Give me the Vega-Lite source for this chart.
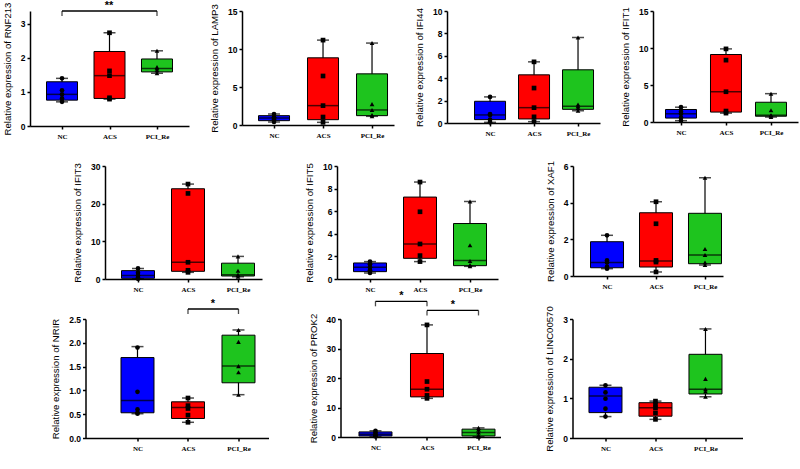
{
"$schema": "https://vega.github.io/schema/vega-lite/v6.json",
"padding": {"left": 2, "top": 0, "right": 2, "bottom": 2},
"datasets": {
"stats": [
{"gene":"RNF213","group":"NC","min":0.71,"q1":0.76,"median":0.93,"q3":1.30,"max":1.40},
{"gene":"RNF213","group":"ACS","min":0.79,"q1":0.81,"median":1.48,"q3":2.19,"max":2.74},
{"gene":"RNF213","group":"PCI_Re","min":1.55,"q1":1.59,"median":1.69,"q3":1.97,"max":2.21},
{"gene":"LAMP3","group":"NC","min":0.40,"q1":0.57,"median":0.92,"q3":1.23,"max":1.45},
{"gene":"LAMP3","group":"ACS","min":0.35,"q1":0.70,"median":2.55,"q3":8.84,"max":11.17},
{"gene":"LAMP3","group":"PCI_Re","min":1.14,"q1":1.23,"median":1.98,"q3":6.73,"max":10.78},
{"gene":"IFI44","group":"NC","min":0.06,"q1":0.30,"median":0.72,"q3":1.94,"max":2.33},
{"gene":"IFI44","group":"ACS","min":0.12,"q1":0.36,"median":1.37,"q3":4.30,"max":5.46},
{"gene":"IFI44","group":"PCI_Re","min":1.10,"q1":1.22,"median":1.49,"q3":4.75,"max":7.64},
{"gene":"IFIT1","group":"NC","min":0.18,"q1":0.53,"median":1.11,"q3":1.69,"max":2.0},
{"gene":"IFIT1","group":"ACS","min":1.2,"q1":1.34,"median":4.09,"q3":9.12,"max":9.88},
{"gene":"IFIT1","group":"PCI_Re","min":0.67,"q1":0.78,"median":0.92,"q3":2.67,"max":3.83},
{"gene":"IFIT3","group":"NC","min":0.05,"q1":0.18,"median":0.9,"q3":2.22,"max":2.8},
{"gene":"IFIT3","group":"ACS","min":1.77,"q1":2.04,"median":4.44,"q3":23.96,"max":25.2},
{"gene":"IFIT3","group":"PCI_Re","min":0.6,"q1":0.8,"median":1.1,"q3":4.2,"max":6.0},
{"gene":"IFIT5","group":"NC","min":0.53,"q1":0.65,"median":1.04,"q3":1.42,"max":1.54},
{"gene":"IFIT5","group":"ACS","min":1.54,"q1":1.83,"median":3.1,"q3":7.25,"max":8.58},
{"gene":"IFIT5","group":"PCI_Re","min":1.12,"q1":1.18,"median":1.63,"q3":4.91,"max":6.86},
{"gene":"XAF1","group":"NC","min":0.4,"q1":0.45,"median":0.73,"q3":1.87,"max":2.22},
{"gene":"XAF1","group":"ACS","min":0.22,"q1":0.49,"median":0.82,"q3":3.45,"max":4.05},
{"gene":"XAF1","group":"PCI_Re","min":0.6,"q1":0.67,"median":1.15,"q3":3.42,"max":5.36},
{"gene":"NRIR","group":"NC","min":0.51,"q1":0.53,"median":0.79,"q3":1.69,"max":1.92},
{"gene":"NRIR","group":"ACS","min":0.33,"q1":0.41,"median":0.64,"q3":0.76,"max":0.84},
{"gene":"NRIR","group":"PCI_Re","min":0.91,"q1":1.16,"median":1.51,"q3":2.16,"max":2.27},
{"gene":"PROK2","group":"NC","min":0.2,"q1":0.35,"median":0.9,"q3":1.73,"max":2.1},
{"gene":"PROK2","group":"ACS","min":13.1,"q1":13.6,"median":16.2,"q3":28.3,"max":38.0},
{"gene":"PROK2","group":"PCI_Re","min":0.1,"q1":0.35,"median":1.5,"q3":2.66,"max":3.1},
{"gene":"LINC00570","group":"NC","min":0.54,"q1":0.64,"median":1.06,"q3":1.28,"max":1.33},
{"gene":"LINC00570","group":"ACS","min":0.47,"q1":0.55,"median":0.76,"q3":0.89,"max":0.93},
{"gene":"LINC00570","group":"PCI_Re","min":1.04,"q1":1.11,"median":1.23,"q3":2.11,"max":2.75}
],
"pts": [
{"gene":"RNF213","group":"NC","value":0.71},{"gene":"RNF213","group":"NC","value":0.81},{"gene":"RNF213","group":"NC","value":0.93},{"gene":"RNF213","group":"NC","value":1.05},{"gene":"RNF213","group":"NC","value":1.40},
{"gene":"RNF213","group":"ACS","value":0.79},{"gene":"RNF213","group":"ACS","value":0.83},{"gene":"RNF213","group":"ACS","value":1.48},{"gene":"RNF213","group":"ACS","value":1.62},{"gene":"RNF213","group":"ACS","value":2.74},
{"gene":"RNF213","group":"PCI_Re","value":1.55},{"gene":"RNF213","group":"PCI_Re","value":1.63},{"gene":"RNF213","group":"PCI_Re","value":1.69},{"gene":"RNF213","group":"PCI_Re","value":1.73},{"gene":"RNF213","group":"PCI_Re","value":2.21},
{"gene":"LAMP3","group":"NC","value":0.40},{"gene":"LAMP3","group":"NC","value":0.74},{"gene":"LAMP3","group":"NC","value":0.92},{"gene":"LAMP3","group":"NC","value":1.01},{"gene":"LAMP3","group":"NC","value":1.45},
{"gene":"LAMP3","group":"ACS","value":0.35},{"gene":"LAMP3","group":"ACS","value":1.05},{"gene":"LAMP3","group":"ACS","value":2.55},{"gene":"LAMP3","group":"ACS","value":6.45},{"gene":"LAMP3","group":"ACS","value":11.17},
{"gene":"LAMP3","group":"PCI_Re","value":1.14},{"gene":"LAMP3","group":"PCI_Re","value":1.32},{"gene":"LAMP3","group":"PCI_Re","value":1.98},{"gene":"LAMP3","group":"PCI_Re","value":2.75},{"gene":"LAMP3","group":"PCI_Re","value":10.78},
{"gene":"IFI44","group":"NC","value":0.06},{"gene":"IFI44","group":"NC","value":0.30},{"gene":"IFI44","group":"NC","value":0.72},{"gene":"IFI44","group":"NC","value":0.8},{"gene":"IFI44","group":"NC","value":2.33},
{"gene":"IFI44","group":"ACS","value":0.12},{"gene":"IFI44","group":"ACS","value":0.55},{"gene":"IFI44","group":"ACS","value":1.37},{"gene":"IFI44","group":"ACS","value":3.12},{"gene":"IFI44","group":"ACS","value":5.46},
{"gene":"IFI44","group":"PCI_Re","value":1.10},{"gene":"IFI44","group":"PCI_Re","value":1.34},{"gene":"IFI44","group":"PCI_Re","value":1.49},{"gene":"IFI44","group":"PCI_Re","value":1.65},{"gene":"IFI44","group":"PCI_Re","value":7.64},
{"gene":"IFIT1","group":"NC","value":0.18},{"gene":"IFIT1","group":"NC","value":0.6},{"gene":"IFIT1","group":"NC","value":1.11},{"gene":"IFIT1","group":"NC","value":1.38},{"gene":"IFIT1","group":"NC","value":2.0},
{"gene":"IFIT1","group":"ACS","value":1.2},{"gene":"IFIT1","group":"ACS","value":1.48},{"gene":"IFIT1","group":"ACS","value":4.09},{"gene":"IFIT1","group":"ACS","value":8.36},{"gene":"IFIT1","group":"ACS","value":9.88},
{"gene":"IFIT1","group":"PCI_Re","value":0.67},{"gene":"IFIT1","group":"PCI_Re","value":0.89},{"gene":"IFIT1","group":"PCI_Re","value":0.92},{"gene":"IFIT1","group":"PCI_Re","value":1.6},{"gene":"IFIT1","group":"PCI_Re","value":3.83},
{"gene":"IFIT3","group":"NC","value":0.05},{"gene":"IFIT3","group":"NC","value":0.31},{"gene":"IFIT3","group":"NC","value":0.9},{"gene":"IFIT3","group":"NC","value":1.64},{"gene":"IFIT3","group":"NC","value":2.8},
{"gene":"IFIT3","group":"ACS","value":1.77},{"gene":"IFIT3","group":"ACS","value":2.31},{"gene":"IFIT3","group":"ACS","value":4.44},{"gene":"IFIT3","group":"ACS","value":22.72},{"gene":"IFIT3","group":"ACS","value":25.2},
{"gene":"IFIT3","group":"PCI_Re","value":0.6},{"gene":"IFIT3","group":"PCI_Re","value":1.0},{"gene":"IFIT3","group":"PCI_Re","value":1.1},{"gene":"IFIT3","group":"PCI_Re","value":2.2},{"gene":"IFIT3","group":"PCI_Re","value":6.0},
{"gene":"IFIT5","group":"NC","value":0.53},{"gene":"IFIT5","group":"NC","value":0.77},{"gene":"IFIT5","group":"NC","value":1.04},{"gene":"IFIT5","group":"NC","value":1.30},{"gene":"IFIT5","group":"NC","value":1.54},
{"gene":"IFIT5","group":"ACS","value":1.54},{"gene":"IFIT5","group":"ACS","value":2.07},{"gene":"IFIT5","group":"ACS","value":3.1},{"gene":"IFIT5","group":"ACS","value":5.95},{"gene":"IFIT5","group":"ACS","value":8.58},
{"gene":"IFIT5","group":"PCI_Re","value":1.12},{"gene":"IFIT5","group":"PCI_Re","value":1.24},{"gene":"IFIT5","group":"PCI_Re","value":1.6},{"gene":"IFIT5","group":"PCI_Re","value":2.98},{"gene":"IFIT5","group":"PCI_Re","value":6.86},
{"gene":"XAF1","group":"NC","value":0.4},{"gene":"XAF1","group":"NC","value":0.5},{"gene":"XAF1","group":"NC","value":0.73},{"gene":"XAF1","group":"NC","value":0.85},{"gene":"XAF1","group":"NC","value":2.22},
{"gene":"XAF1","group":"ACS","value":0.22},{"gene":"XAF1","group":"ACS","value":0.76},{"gene":"XAF1","group":"ACS","value":0.85},{"gene":"XAF1","group":"ACS","value":2.85},{"gene":"XAF1","group":"ACS","value":4.05},
{"gene":"XAF1","group":"PCI_Re","value":0.6},{"gene":"XAF1","group":"PCI_Re","value":0.74},{"gene":"XAF1","group":"PCI_Re","value":1.15},{"gene":"XAF1","group":"PCI_Re","value":1.47},{"gene":"XAF1","group":"PCI_Re","value":5.36},
{"gene":"NRIR","group":"NC","value":0.51},{"gene":"NRIR","group":"NC","value":0.53},{"gene":"NRIR","group":"NC","value":0.60},{"gene":"NRIR","group":"NC","value":0.97},{"gene":"NRIR","group":"NC","value":1.90},
{"gene":"NRIR","group":"ACS","value":0.33},{"gene":"NRIR","group":"ACS","value":0.48},{"gene":"NRIR","group":"ACS","value":0.62},{"gene":"NRIR","group":"ACS","value":0.68},{"gene":"NRIR","group":"ACS","value":0.84},
{"gene":"NRIR","group":"PCI_Re","value":0.91},{"gene":"NRIR","group":"PCI_Re","value":1.38},{"gene":"NRIR","group":"PCI_Re","value":1.51},{"gene":"NRIR","group":"PCI_Re","value":2.02},{"gene":"NRIR","group":"PCI_Re","value":2.27},
{"gene":"PROK2","group":"NC","value":0.2},{"gene":"PROK2","group":"NC","value":0.5},{"gene":"PROK2","group":"NC","value":0.9},{"gene":"PROK2","group":"NC","value":1.5},{"gene":"PROK2","group":"NC","value":2.1},
{"gene":"PROK2","group":"ACS","value":13.1},{"gene":"PROK2","group":"ACS","value":14.1},{"gene":"PROK2","group":"ACS","value":16.2},{"gene":"PROK2","group":"ACS","value":18.8},{"gene":"PROK2","group":"ACS","value":38.0},
{"gene":"PROK2","group":"PCI_Re","value":0.1},{"gene":"PROK2","group":"PCI_Re","value":0.6},{"gene":"PROK2","group":"PCI_Re","value":1.5},{"gene":"PROK2","group":"PCI_Re","value":2.5},{"gene":"PROK2","group":"PCI_Re","value":3.1},
{"gene":"LINC00570","group":"NC","value":0.54},{"gene":"LINC00570","group":"NC","value":0.74},{"gene":"LINC00570","group":"NC","value":0.99},{"gene":"LINC00570","group":"NC","value":1.15},{"gene":"LINC00570","group":"NC","value":1.33},
{"gene":"LINC00570","group":"ACS","value":0.47},{"gene":"LINC00570","group":"ACS","value":0.63},{"gene":"LINC00570","group":"ACS","value":0.76},{"gene":"LINC00570","group":"ACS","value":0.85},{"gene":"LINC00570","group":"ACS","value":0.93},
{"gene":"LINC00570","group":"PCI_Re","value":1.04},{"gene":"LINC00570","group":"PCI_Re","value":1.17},{"gene":"LINC00570","group":"PCI_Re","value":1.23},{"gene":"LINC00570","group":"PCI_Re","value":1.49},{"gene":"LINC00570","group":"PCI_Re","value":2.75}
],
"sig": [
{"gene":"RNF213","g1":"NC","g2":"PCI_Re","level":3.38,"label":"**"},
{"gene":"NRIR","g1":"ACS","g2":"PCI_Re","level":2.71,"label":"*"},
{"gene":"PROK2","g1":"NC","g2":"ACS","level":46.0,"label":"*"},
{"gene":"PROK2","g1":"ACS","g2":"PCI_Re","level":42.9,"label":"*"}
]
},
"spacing": 21,
"center": true,
"resolve": {"scale": {"x": "independent", "y": "independent"}},
"vconcat": [
{"spacing": 53, "bounds": "flush", "resolve": {"scale": {"x": "independent", "y": "independent"}}, "hconcat": [
{"width": 159, "height": 115, "layer": [
 {"data": {"name": "stats"}, "transform": [{"filter": "datum.gene === 'RNF213'"}],
  "encoding": {"x": {"field": "group", "type": "nominal", "scale": {"type": "point", "domain": ["NC","ACS","PCI_Re"], "padding": 0.674, "align": 0.5}, "axis": {"title": null}}},
  "layer": [
   {"mark": {"type": "rule", "color": "black", "strokeWidth": 1.2}, "encoding": {"y": {"field": "min", "type": "quantitative", "scale": {"domain": [0, 3.38], "nice": false}, "axis": {"title": "Relative expression of RNF213", "values": [0,1,2,3], "tickCount": 10, "format": "d"}}, "y2": {"field": "max"}}},
   {"mark": {"type": "tick", "color": "black", "size": 12, "thickness": 1.5}, "encoding": {"y": {"field": "min", "type": "quantitative"}}},
   {"mark": {"type": "tick", "color": "black", "size": 12, "thickness": 1.5}, "encoding": {"y": {"field": "max", "type": "quantitative"}}},
   {"mark": {"type": "bar", "width": 31, "stroke": "black", "strokeWidth": 1}, "encoding": {"y": {"field": "q1", "type": "quantitative"}, "y2": {"field": "q3"}, "color": {"field": "group", "type": "nominal", "scale": {"domain": ["NC","ACS","PCI_Re"], "range": ["#0000ff","#ff0000","#1ec41e"]}, "legend": null}}},
   {"mark": {"type": "tick", "color": "black", "size": 31, "thickness": 1.5}, "encoding": {"y": {"field": "median", "type": "quantitative"}}}
  ]},
 {"data": {"name": "pts"}, "transform": [{"filter": "datum.gene === 'RNF213'"}],
  "mark": {"type": "point", "filled": true, "color": "black", "size": 22, "opacity": 1},
  "encoding": {"x": {"field": "group", "type": "nominal"}, "y": {"field": "value", "type": "quantitative"}, "shape": {"field": "group", "type": "nominal", "scale": {"domain": ["NC","ACS","PCI_Re"], "range": ["circle","square","triangle-up"]}, "legend": null}}},
 {"data": {"name": "sig"}, "transform": [{"filter": "datum.gene === 'RNF213'"}],
  "layer": [
   {"mark": {"type": "rule", "color": "black", "strokeWidth": 1.3}, "encoding": {"x": {"field": "g1", "type": "nominal"}, "x2": {"field": "g2"}, "y": {"field": "level", "type": "quantitative"}}},
   {"mark": {"type": "tick", "orient": "vertical", "color": "black", "size": 5, "thickness": 1.3, "yOffset": 2.5}, "encoding": {"x": {"field": "g1", "type": "nominal"}, "y": {"field": "level", "type": "quantitative"}}},
   {"mark": {"type": "tick", "orient": "vertical", "color": "black", "size": 5, "thickness": 1.3, "yOffset": 2.5}, "encoding": {"x": {"field": "g2", "type": "nominal"}, "y": {"field": "level", "type": "quantitative"}}},
   {"mark": {"type": "text", "color": "black", "font": "Liberation Sans", "fontSize": 11, "fontWeight": "bold", "dx": 47, "dy": -5}, "encoding": {"x": {"field": "g1", "type": "nominal"}, "y": {"field": "level", "type": "quantitative"}, "text": {"field": "label"}}}
  ]}
]},
{"width": 152, "height": 114, "layer": [
 {"data": {"name": "stats"}, "transform": [{"filter": "datum.gene === 'LAMP3'"}],
  "encoding": {"x": {"field": "group", "type": "nominal", "scale": {"type": "point", "domain": ["NC","ACS","PCI_Re"], "padding": 0.551, "align": 0.593}, "axis": {"title": null}}},
  "layer": [
   {"mark": {"type": "rule", "color": "black", "strokeWidth": 1.2}, "encoding": {"y": {"field": "min", "type": "quantitative", "scale": {"domain": [0, 15], "nice": false}, "axis": {"title": "Relative expression of LAMP3", "values": [0,5,10,15], "tickCount": 10, "format": "d"}}, "y2": {"field": "max"}}},
   {"mark": {"type": "tick", "color": "black", "size": 12, "thickness": 1.5}, "encoding": {"y": {"field": "min", "type": "quantitative"}}},
   {"mark": {"type": "tick", "color": "black", "size": 12, "thickness": 1.5}, "encoding": {"y": {"field": "max", "type": "quantitative"}}},
   {"mark": {"type": "bar", "width": 31, "stroke": "black", "strokeWidth": 1}, "encoding": {"y": {"field": "q1", "type": "quantitative"}, "y2": {"field": "q3"}, "color": {"field": "group", "type": "nominal", "scale": {"domain": ["NC","ACS","PCI_Re"], "range": ["#0000ff","#ff0000","#1ec41e"]}, "legend": null}}},
   {"mark": {"type": "tick", "color": "black", "size": 31, "thickness": 1.5}, "encoding": {"y": {"field": "median", "type": "quantitative"}}}
  ]},
 {"data": {"name": "pts"}, "transform": [{"filter": "datum.gene === 'LAMP3'"}],
  "mark": {"type": "point", "filled": true, "color": "black", "size": 22, "opacity": 1},
  "encoding": {"x": {"field": "group", "type": "nominal"}, "y": {"field": "value", "type": "quantitative"}, "shape": {"field": "group", "type": "nominal", "scale": {"domain": ["NC","ACS","PCI_Re"], "range": ["circle","square","triangle-up"]}, "legend": null}}}
]},
{"width": 153, "height": 112, "layer": [
 {"data": {"name": "stats"}, "transform": [{"filter": "datum.gene === 'IFI44'"}],
  "encoding": {"x": {"field": "group", "type": "nominal", "scale": {"type": "point", "domain": ["NC","ACS","PCI_Re"], "padding": 0.739, "align": 0.662}, "axis": {"title": null}}},
  "layer": [
   {"mark": {"type": "rule", "color": "black", "strokeWidth": 1.2}, "encoding": {"y": {"field": "min", "type": "quantitative", "scale": {"domain": [0, 10], "nice": false}, "axis": {"title": "Relative expression of IFI44", "values": [0,2,4,6,8,10], "tickCount": 10, "format": "d"}}, "y2": {"field": "max"}}},
   {"mark": {"type": "tick", "color": "black", "size": 12, "thickness": 1.5}, "encoding": {"y": {"field": "min", "type": "quantitative"}}},
   {"mark": {"type": "tick", "color": "black", "size": 12, "thickness": 1.5}, "encoding": {"y": {"field": "max", "type": "quantitative"}}},
   {"mark": {"type": "bar", "width": 31, "stroke": "black", "strokeWidth": 1}, "encoding": {"y": {"field": "q1", "type": "quantitative"}, "y2": {"field": "q3"}, "color": {"field": "group", "type": "nominal", "scale": {"domain": ["NC","ACS","PCI_Re"], "range": ["#0000ff","#ff0000","#1ec41e"]}, "legend": null}}},
   {"mark": {"type": "tick", "color": "black", "size": 31, "thickness": 1.5}, "encoding": {"y": {"field": "median", "type": "quantitative"}}}
  ]},
 {"data": {"name": "pts"}, "transform": [{"filter": "datum.gene === 'IFI44'"}],
  "mark": {"type": "point", "filled": true, "color": "black", "size": 22, "opacity": 1},
  "encoding": {"x": {"field": "group", "type": "nominal"}, "y": {"field": "value", "type": "quantitative"}, "shape": {"field": "group", "type": "nominal", "scale": {"domain": ["NC","ACS","PCI_Re"], "range": ["circle","square","triangle-up"]}, "legend": null}}}
]},
{"width": 145, "height": 111, "layer": [
 {"data": {"name": "stats"}, "transform": [{"filter": "datum.gene === 'IFIT1'"}],
  "encoding": {"x": {"field": "group", "type": "nominal", "scale": {"type": "point", "domain": ["NC","ACS","PCI_Re"], "padding": 0.611, "align": 0.509}, "axis": {"title": null}}},
  "layer": [
   {"mark": {"type": "rule", "color": "black", "strokeWidth": 1.2}, "encoding": {"y": {"field": "min", "type": "quantitative", "scale": {"domain": [0, 15], "nice": false}, "axis": {"title": "Relative expression of IFIT1", "values": [0,5,10,15], "tickCount": 10, "format": "d"}}, "y2": {"field": "max"}}},
   {"mark": {"type": "tick", "color": "black", "size": 12, "thickness": 1.5}, "encoding": {"y": {"field": "min", "type": "quantitative"}}},
   {"mark": {"type": "tick", "color": "black", "size": 12, "thickness": 1.5}, "encoding": {"y": {"field": "max", "type": "quantitative"}}},
   {"mark": {"type": "bar", "width": 31, "stroke": "black", "strokeWidth": 1}, "encoding": {"y": {"field": "q1", "type": "quantitative"}, "y2": {"field": "q3"}, "color": {"field": "group", "type": "nominal", "scale": {"domain": ["NC","ACS","PCI_Re"], "range": ["#0000ff","#ff0000","#1ec41e"]}, "legend": null}}},
   {"mark": {"type": "tick", "color": "black", "size": 31, "thickness": 1.5}, "encoding": {"y": {"field": "median", "type": "quantitative"}}}
  ]},
 {"data": {"name": "pts"}, "transform": [{"filter": "datum.gene === 'IFIT1'"}],
  "mark": {"type": "point", "filled": true, "color": "black", "size": 22, "opacity": 1},
  "encoding": {"x": {"field": "group", "type": "nominal"}, "y": {"field": "value", "type": "quantitative"}, "shape": {"field": "group", "type": "nominal", "scale": {"domain": ["NC","ACS","PCI_Re"], "range": ["circle","square","triangle-up"]}, "legend": null}}}
]}
]},
{"spacing": -2, "center": true, "resolve": {"scale": {"x": "independent", "y": "independent"}}, "vconcat": [
{"spacing": 75, "bounds": "flush", "resolve": {"scale": {"x": "independent", "y": "independent"}}, "hconcat": [
{"width": 157, "height": 113, "layer": [
 {"data": {"name": "stats"}, "transform": [{"filter": "datum.gene === 'IFIT3'"}],
  "encoding": {"x": {"field": "group", "type": "nominal", "scale": {"type": "point", "domain": ["NC","ACS","PCI_Re"], "padding": 0.57, "align": 0.579}, "axis": {"title": null}}},
  "layer": [
   {"mark": {"type": "rule", "color": "black", "strokeWidth": 1.2}, "encoding": {"y": {"field": "min", "type": "quantitative", "scale": {"domain": [0, 30], "nice": false}, "axis": {"title": "Relative expression of IFIT3", "values": [0,10,20,30], "tickCount": 10, "format": "d"}}, "y2": {"field": "max"}}},
   {"mark": {"type": "tick", "color": "black", "size": 12, "thickness": 1.5}, "encoding": {"y": {"field": "min", "type": "quantitative"}}},
   {"mark": {"type": "tick", "color": "black", "size": 12, "thickness": 1.5}, "encoding": {"y": {"field": "max", "type": "quantitative"}}},
   {"mark": {"type": "bar", "width": 33, "stroke": "black", "strokeWidth": 1}, "encoding": {"y": {"field": "q1", "type": "quantitative"}, "y2": {"field": "q3"}, "color": {"field": "group", "type": "nominal", "scale": {"domain": ["NC","ACS","PCI_Re"], "range": ["#0000ff","#ff0000","#1ec41e"]}, "legend": null}}},
   {"mark": {"type": "tick", "color": "black", "size": 33, "thickness": 1.5}, "encoding": {"y": {"field": "median", "type": "quantitative"}}}
  ]},
 {"data": {"name": "pts"}, "transform": [{"filter": "datum.gene === 'IFIT3'"}],
  "mark": {"type": "point", "filled": true, "color": "black", "size": 22, "opacity": 1},
  "encoding": {"x": {"field": "group", "type": "nominal"}, "y": {"field": "value", "type": "quantitative"}, "shape": {"field": "group", "type": "nominal", "scale": {"domain": ["NC","ACS","PCI_Re"], "range": ["circle","square","triangle-up"]}, "legend": null}}}
]},
{"width": 161, "height": 113, "layer": [
 {"data": {"name": "stats"}, "transform": [{"filter": "datum.gene === 'IFIT5'"}],
  "encoding": {"x": {"field": "group", "type": "nominal", "scale": {"type": "point", "domain": ["NC","ACS","PCI_Re"], "padding": 0.61, "align": 0.541}, "axis": {"title": null}}},
  "layer": [
   {"mark": {"type": "rule", "color": "black", "strokeWidth": 1.2}, "encoding": {"y": {"field": "min", "type": "quantitative", "scale": {"domain": [0, 10], "nice": false}, "axis": {"title": "Relative expression of IFIT5", "values": [0,2,4,6,8,10], "tickCount": 10, "format": "d"}}, "y2": {"field": "max"}}},
   {"mark": {"type": "tick", "color": "black", "size": 12, "thickness": 1.5}, "encoding": {"y": {"field": "min", "type": "quantitative"}}},
   {"mark": {"type": "tick", "color": "black", "size": 12, "thickness": 1.5}, "encoding": {"y": {"field": "max", "type": "quantitative"}}},
   {"mark": {"type": "bar", "width": 33, "stroke": "black", "strokeWidth": 1}, "encoding": {"y": {"field": "q1", "type": "quantitative"}, "y2": {"field": "q3"}, "color": {"field": "group", "type": "nominal", "scale": {"domain": ["NC","ACS","PCI_Re"], "range": ["#0000ff","#ff0000","#1ec41e"]}, "legend": null}}},
   {"mark": {"type": "tick", "color": "black", "size": 33, "thickness": 1.5}, "encoding": {"y": {"field": "median", "type": "quantitative"}}}
  ]},
 {"data": {"name": "pts"}, "transform": [{"filter": "datum.gene === 'IFIT5'"}],
  "mark": {"type": "point", "filled": true, "color": "black", "size": 22, "opacity": 1},
  "encoding": {"x": {"field": "group", "type": "nominal"}, "y": {"field": "value", "type": "quantitative"}, "shape": {"field": "group", "type": "nominal", "scale": {"domain": ["NC","ACS","PCI_Re"], "range": ["circle","square","triangle-up"]}, "legend": null}}}
]},
{"width": 150, "height": 110, "layer": [
 {"data": {"name": "stats"}, "transform": [{"filter": "datum.gene === 'XAF1'"}],
  "encoding": {"x": {"field": "group", "type": "nominal", "scale": {"type": "point", "domain": ["NC","ACS","PCI_Re"], "padding": 0.531, "align": 0.654}, "axis": {"title": null}}},
  "layer": [
   {"mark": {"type": "rule", "color": "black", "strokeWidth": 1.2}, "encoding": {"y": {"field": "min", "type": "quantitative", "scale": {"domain": [0, 6], "nice": false}, "axis": {"title": "Relative expression of XAF1", "values": [0,2,4,6], "tickCount": 10, "format": "d"}}, "y2": {"field": "max"}}},
   {"mark": {"type": "tick", "color": "black", "size": 12, "thickness": 1.5}, "encoding": {"y": {"field": "min", "type": "quantitative"}}},
   {"mark": {"type": "tick", "color": "black", "size": 12, "thickness": 1.5}, "encoding": {"y": {"field": "max", "type": "quantitative"}}},
   {"mark": {"type": "bar", "width": 33, "stroke": "black", "strokeWidth": 1}, "encoding": {"y": {"field": "q1", "type": "quantitative"}, "y2": {"field": "q3"}, "color": {"field": "group", "type": "nominal", "scale": {"domain": ["NC","ACS","PCI_Re"], "range": ["#0000ff","#ff0000","#1ec41e"]}, "legend": null}}},
   {"mark": {"type": "tick", "color": "black", "size": 33, "thickness": 1.5}, "encoding": {"y": {"field": "median", "type": "quantitative"}}}
  ]},
 {"data": {"name": "pts"}, "transform": [{"filter": "datum.gene === 'XAF1'"}],
  "mark": {"type": "point", "filled": true, "color": "black", "size": 22, "opacity": 1},
  "encoding": {"x": {"field": "group", "type": "nominal"}, "y": {"field": "value", "type": "quantitative"}, "shape": {"field": "group", "type": "nominal", "scale": {"domain": ["NC","ACS","PCI_Re"], "range": ["circle","square","triangle-up"]}, "legend": null}}}
]}
]},
{"spacing": 72, "bounds": "flush", "resolve": {"scale": {"x": "independent", "y": "independent"}}, "hconcat": [
{"width": 183, "height": 119, "layer": [
 {"data": {"name": "stats"}, "transform": [{"filter": "datum.gene === 'NRIR'"}],
  "encoding": {"x": {"field": "group", "type": "nominal", "scale": {"type": "point", "domain": ["NC","ACS","PCI_Re"], "padding": 0.812, "align": 0.634}, "axis": {"title": null}}},
  "layer": [
   {"mark": {"type": "rule", "color": "black", "strokeWidth": 1.2}, "encoding": {"y": {"field": "min", "type": "quantitative", "scale": {"domain": [0, 2.5], "nice": false}, "axis": {"title": "Relative expression of NRIR", "values": [0,0.5,1,1.5,2,2.5], "format": ".1f", "tickCount": 10}}, "y2": {"field": "max"}}},
   {"mark": {"type": "tick", "color": "black", "size": 12, "thickness": 1.5}, "encoding": {"y": {"field": "min", "type": "quantitative"}}},
   {"mark": {"type": "tick", "color": "black", "size": 12, "thickness": 1.5}, "encoding": {"y": {"field": "max", "type": "quantitative"}}},
   {"mark": {"type": "bar", "width": 33, "stroke": "black", "strokeWidth": 1}, "encoding": {"y": {"field": "q1", "type": "quantitative"}, "y2": {"field": "q3"}, "color": {"field": "group", "type": "nominal", "scale": {"domain": ["NC","ACS","PCI_Re"], "range": ["#0000ff","#ff0000","#1ec41e"]}, "legend": null}}},
   {"mark": {"type": "tick", "color": "black", "size": 33, "thickness": 1.5}, "encoding": {"y": {"field": "median", "type": "quantitative"}}}
  ]},
 {"data": {"name": "pts"}, "transform": [{"filter": "datum.gene === 'NRIR'"}],
  "mark": {"type": "point", "filled": true, "color": "black", "size": 22, "opacity": 1},
  "encoding": {"x": {"field": "group", "type": "nominal"}, "y": {"field": "value", "type": "quantitative"}, "shape": {"field": "group", "type": "nominal", "scale": {"domain": ["NC","ACS","PCI_Re"], "range": ["circle","square","triangle-up"]}, "legend": null}}},
 {"data": {"name": "sig"}, "transform": [{"filter": "datum.gene === 'NRIR'"}],
  "layer": [
   {"mark": {"type": "rule", "color": "black", "strokeWidth": 1.3}, "encoding": {"x": {"field": "g1", "type": "nominal"}, "x2": {"field": "g2"}, "y": {"field": "level", "type": "quantitative"}}},
   {"mark": {"type": "tick", "orient": "vertical", "color": "black", "size": 5, "thickness": 1.3, "yOffset": 2.5}, "encoding": {"x": {"field": "g1", "type": "nominal"}, "y": {"field": "level", "type": "quantitative"}}},
   {"mark": {"type": "tick", "orient": "vertical", "color": "black", "size": 5, "thickness": 1.3, "yOffset": 2.5}, "encoding": {"x": {"field": "g2", "type": "nominal"}, "y": {"field": "level", "type": "quantitative"}}},
   {"mark": {"type": "text", "color": "black", "font": "Liberation Sans", "fontSize": 11, "fontWeight": "bold", "dx": 25, "dy": -5}, "encoding": {"x": {"field": "g1", "type": "nominal"}, "y": {"field": "level", "type": "quantitative"}, "text": {"field": "label"}}}
  ]}
]},
{"width": 160, "height": 118, "layer": [
 {"data": {"name": "stats"}, "transform": [{"filter": "datum.gene === 'PROK2'"}],
  "encoding": {"x": {"field": "group", "type": "nominal", "scale": {"type": "point", "domain": ["NC","ACS","PCI_Re"], "padding": 0.553, "align": 0.614}, "axis": {"title": null}}},
  "layer": [
   {"mark": {"type": "rule", "color": "black", "strokeWidth": 1.2}, "encoding": {"y": {"field": "min", "type": "quantitative", "scale": {"domain": [0, 40], "nice": false}, "axis": {"title": "Relative expression of PROK2", "values": [0,10,20,30,40], "tickCount": 10, "format": "d"}}, "y2": {"field": "max"}}},
   {"mark": {"type": "tick", "color": "black", "size": 12, "thickness": 1.5}, "encoding": {"y": {"field": "min", "type": "quantitative"}}},
   {"mark": {"type": "tick", "color": "black", "size": 12, "thickness": 1.5}, "encoding": {"y": {"field": "max", "type": "quantitative"}}},
   {"mark": {"type": "bar", "width": 33, "stroke": "black", "strokeWidth": 1}, "encoding": {"y": {"field": "q1", "type": "quantitative"}, "y2": {"field": "q3"}, "color": {"field": "group", "type": "nominal", "scale": {"domain": ["NC","ACS","PCI_Re"], "range": ["#0000ff","#ff0000","#1ec41e"]}, "legend": null}}},
   {"mark": {"type": "tick", "color": "black", "size": 33, "thickness": 1.5}, "encoding": {"y": {"field": "median", "type": "quantitative"}}}
  ]},
 {"data": {"name": "pts"}, "transform": [{"filter": "datum.gene === 'PROK2'"}],
  "mark": {"type": "point", "filled": true, "color": "black", "size": 22, "opacity": 1},
  "encoding": {"x": {"field": "group", "type": "nominal"}, "y": {"field": "value", "type": "quantitative"}, "shape": {"field": "group", "type": "nominal", "scale": {"domain": ["NC","ACS","PCI_Re"], "range": ["circle","square","triangle-up"]}, "legend": null}}},
 {"data": {"name": "sig"}, "transform": [{"filter": "datum.gene === 'PROK2'"}],
  "layer": [
   {"mark": {"type": "rule", "color": "black", "strokeWidth": 1.3}, "encoding": {"x": {"field": "g1", "type": "nominal"}, "x2": {"field": "g2"}, "y": {"field": "level", "type": "quantitative"}}},
   {"mark": {"type": "tick", "orient": "vertical", "color": "black", "size": 5, "thickness": 1.3, "yOffset": 2.5}, "encoding": {"x": {"field": "g1", "type": "nominal"}, "y": {"field": "level", "type": "quantitative"}}},
   {"mark": {"type": "tick", "orient": "vertical", "color": "black", "size": 5, "thickness": 1.3, "yOffset": 2.5}, "encoding": {"x": {"field": "g2", "type": "nominal"}, "y": {"field": "level", "type": "quantitative"}}},
   {"mark": {"type": "text", "color": "black", "font": "Liberation Sans", "fontSize": 11, "fontWeight": "bold", "dx": 26, "dy": -5}, "encoding": {"x": {"field": "g1", "type": "nominal"}, "y": {"field": "level", "type": "quantitative"}, "text": {"field": "label"}}}
  ]}
]},
{"width": 170, "height": 119, "layer": [
 {"data": {"name": "stats"}, "transform": [{"filter": "datum.gene === 'LINC00570'"}],
  "encoding": {"x": {"field": "group", "type": "nominal", "scale": {"type": "point", "domain": ["NC","ACS","PCI_Re"], "padding": 0.7, "align": 0.471}, "axis": {"title": null}}},
  "layer": [
   {"mark": {"type": "rule", "color": "black", "strokeWidth": 1.2}, "encoding": {"y": {"field": "min", "type": "quantitative", "scale": {"domain": [0, 3], "nice": false}, "axis": {"title": "Relative expression of LINC00570", "values": [0,1,2,3], "tickCount": 10, "format": "d"}}, "y2": {"field": "max"}}},
   {"mark": {"type": "tick", "color": "black", "size": 12, "thickness": 1.5}, "encoding": {"y": {"field": "min", "type": "quantitative"}}},
   {"mark": {"type": "tick", "color": "black", "size": 12, "thickness": 1.5}, "encoding": {"y": {"field": "max", "type": "quantitative"}}},
   {"mark": {"type": "bar", "width": 33, "stroke": "black", "strokeWidth": 1}, "encoding": {"y": {"field": "q1", "type": "quantitative"}, "y2": {"field": "q3"}, "color": {"field": "group", "type": "nominal", "scale": {"domain": ["NC","ACS","PCI_Re"], "range": ["#0000ff","#ff0000","#1ec41e"]}, "legend": null}}},
   {"mark": {"type": "tick", "color": "black", "size": 33, "thickness": 1.5}, "encoding": {"y": {"field": "median", "type": "quantitative"}}}
  ]},
 {"data": {"name": "pts"}, "transform": [{"filter": "datum.gene === 'LINC00570'"}],
  "mark": {"type": "point", "filled": true, "color": "black", "size": 22, "opacity": 1},
  "encoding": {"x": {"field": "group", "type": "nominal"}, "y": {"field": "value", "type": "quantitative"}, "shape": {"field": "group", "type": "nominal", "scale": {"domain": ["NC","ACS","PCI_Re"], "range": ["circle","square","triangle-up"]}, "legend": null}}}
]}
]}
]}
],
"config": {
 "view": {"stroke": null},
 "axis": {"domainColor": "black", "domainWidth": 1.5, "tickColor": "black", "tickWidth": 1.5, "grid": false, "labelColor": "black", "titleColor": "black"},
 "axisY": {"labelFont": "Liberation Sans", "labelFontWeight": "bold", "labelFontSize": 8.5, "tickSize": 3, "labelPadding": 2, "labelOverlap": false, "labelFlush": false, "titleFont": "Liberation Sans", "titleFontSize": 9.6, "titleFontWeight": "normal", "titlePadding": 8},
 "axisX": {"labelFont": "Liberation Serif", "labelFontSize": 7, "labelFontWeight": "bold", "labelAngle": 0, "tickSize": 3, "labelPadding": 3, "labelOverlap": false}
}
}
